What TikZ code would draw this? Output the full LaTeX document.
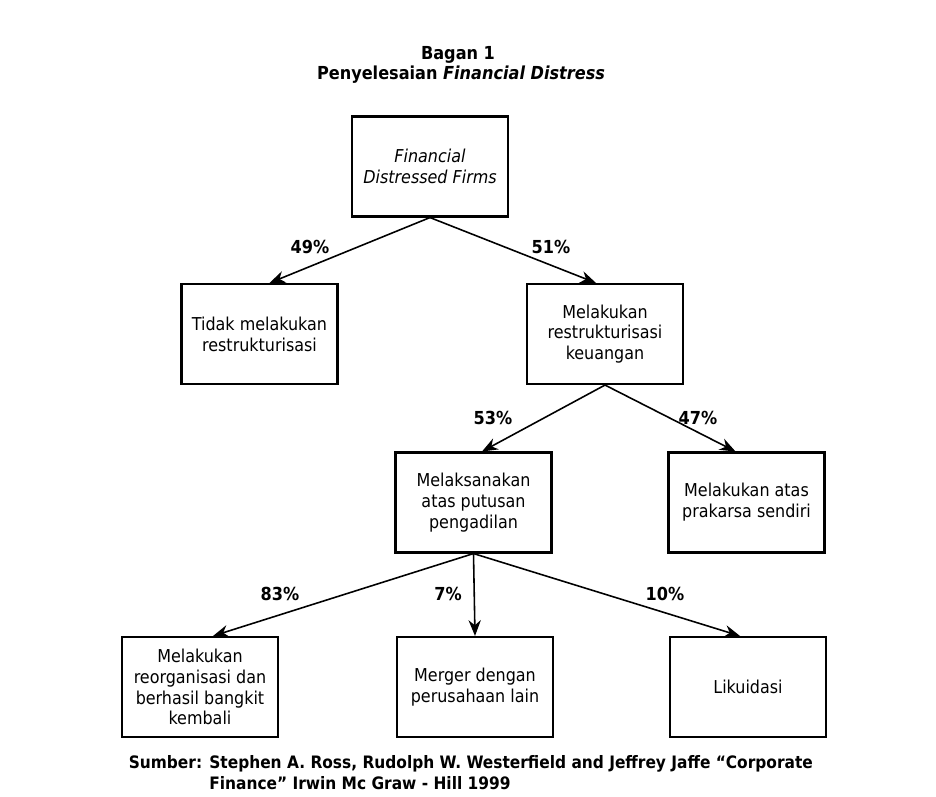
\documentclass[tikz,border=0pt]{standalone}
\usepackage{fontspec}
\setmainfont{DejaVu Sans Condensed}[BoldFont={DejaVu Sans Condensed Bold},ItalicFont={DejaVu Sans Condensed Oblique},BoldItalicFont={DejaVu Sans Condensed Bold Oblique}]
\usetikzlibrary{arrows.meta}

\begin{document}
\begin{tikzpicture}[x=0.02cm,y=-0.02cm,>={Stealth[length=9pt,width=7pt]},line width=0.9pt,
 box/.style={draw,line width=1.2pt,minimum width=3.12cm,minimum height=2cm,align=center,inner sep=2pt,font=\fontsize{10.1}{11.9}\selectfont},
 pct/.style={inner sep=1pt,font=\bfseries\fontsize{10.2}{11}\selectfont}]
\useasboundingbox (0,0) rectangle (936,796);
\node[font=\bfseries\fontsize{10.2}{11}\selectfont] (ttl) at (458,55) {Bagan 1};
\node[font=\bfseries\fontsize{10.2}{11}\selectfont] (sub) at (461,75) {Penyelesaian \textit{Financial Distress}};
\node[box] (firm) at (430,166.5) {\textit{Financial}\\\textit{Distressed Firms}};
\node[box] (tidak) at (259.5,334) {Tidak melakukan\\restrukturisasi};
\node[box] (restr) at (605,334) {Melakukan\\restrukturisasi\\keuangan};
\node[box] (sidang) at (473.5,502.5) {Melaksanakan\\atas putusan\\pengadilan};
\node[box] (sendiri) at (746.5,502.5) {Melakukan atas\\prakarsa sendiri};
\node[box] (reorg) at (200,687) {Melakukan\\reorganisasi dan\\berhasil bangkit\\kembali};
\node[box] (merger) at (475,687) {Merger dengan\\perusahaan lain};
\node[box] (likuid) at (748,687) {Likuidasi};
\node[pct] (p49) at (310,247) {49\%};
\node[pct] (p51) at (551,247) {51\%};
\node[pct] (p53) at (493,418) {53\%};
\node[pct] (p47) at (698,418) {47\%};
\node[pct] (p83) at (280,594) {83\%};
\node[pct] (p7) at (448,594) {7\%};
\node[pct] (p10) at (665,594) {10\%};
\node[anchor=north west,inner sep=0pt,font=\bfseries\fontsize{9.75}{11.9}\selectfont] (src) at (128,753)
 {\begin{tabular}{@{}l@{ }l@{}}Sumber: & Stephen A. Ross, Rudolph W. Westerfield and Jeffrey Jaffe ``Corporate\\ & Finance'' Irwin Mc Graw - Hill 1999\end{tabular}};
\draw[->] (firm.south) -- ([xshift=0.2cm]tidak.north);
\draw[->] (firm.south) -- ([xshift=-0.18cm]restr.north);
\draw[->] (restr.south) -- ([xshift=0.17cm]sidang.north);
\draw[->] (restr.south) -- ([xshift=-0.22cm]sendiri.north);
\draw[->] (sidang.south) -- ([xshift=0.26cm]reorg.north);
\draw[->] (sidang.south) -- (merger.north);
\draw[->] (sidang.south) -- ([xshift=-0.16cm]likuid.north);
\end{tikzpicture}
\end{document}
